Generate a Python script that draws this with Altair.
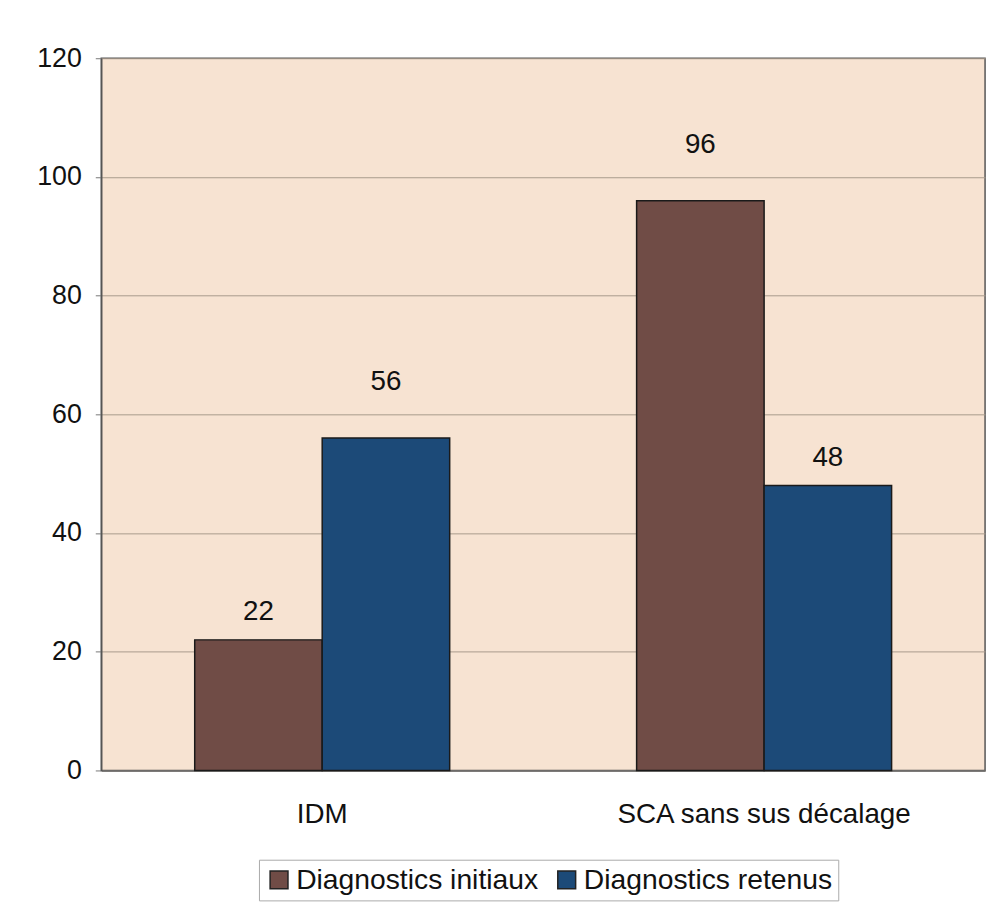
import altair as alt
import pandas as pd

categories = ["IDM", "SCA sans sus décalage"]
series = ["Diagnostics initiaux", "Diagnostics retenus"]
initiaux = [22, 96]
retenus = [56, 48]
y_ticks = [0, 20, 40, 60, 80, 100, 120]

rows = []
for i, c in enumerate(categories):
    rows.append({"categorie": c, "serie": series[0], "valeur": initiaux[i]})
    rows.append({"categorie": c, "serie": series[1], "valeur": retenus[i]})
df = pd.DataFrame(rows)

FONT = "Liberation Sans"
colors = ["#704c46", "#1c4a78"]

x = alt.X("categorie:N", sort=categories, title=None,
          scale=alt.Scale(paddingInner=0.423, paddingOuter=0.2115),
          axis=alt.Axis(labelAngle=0, labelFontSize=28, labelFont=FONT, labelColor="#111",
                        labelLimit=600, ticks=False, labelPadding=30,
                        domainColor="#666", domainWidth=1.5))
xo = alt.XOffset("serie:N", sort=series, scale=alt.Scale(paddingInner=0, paddingOuter=0))
y = alt.Y("valeur:Q", title=None,
          scale=alt.Scale(domain=[0, 120], nice=False),
          axis=alt.Axis(values=y_ticks, labelFontSize=27, labelFont=FONT, labelColor="#111",
                        tickSize=6, tickColor="#777", labelPadding=14,
                        gridColor="#a89a8c", gridWidth=1, domainColor="#555", domainWidth=1.5))

bars = alt.Chart(df).mark_bar(stroke="#1a1a1a", strokeWidth=1.5).encode(
    x=x, xOffset=xo, y=y,
    color=alt.Color("serie:N", sort=series, title=None,
                    scale=alt.Scale(domain=series, range=colors),
                    legend=alt.Legend(orient="none", legendX=159, legendY=808,
                                      direction="horizontal", symbolType="square",
                                      symbolSize=324, symbolStrokeColor="#222",
                                      symbolStrokeWidth=1.5, labelFontSize=28.5,
                                      labelFont=FONT, labelColor="#111",
                                      labelOffset=3, columnPadding=14,
                                      strokeColor="#aaaaaa", fillColor="white",
                                      padding=6, labelLimit=600))
)

raised = "(datum.categorie == 'IDM') == (datum.serie == 'Diagnostics retenus')"

labels_low = alt.Chart(df).transform_filter("!(" + raised + ")").mark_text(
    dy=-28, baseline="middle", fontSize=28, font=FONT, color="#111"
).encode(x=x, xOffset=xo, y=y, text="valeur:Q")

labels_high = alt.Chart(df).transform_filter(raised).mark_text(
    dy=-56, baseline="middle", fontSize=28, font=FONT, color="#111"
).encode(x=x, xOffset=xo, y=y, text="valeur:Q")

chart = alt.layer(bars, labels_low, labels_high).properties(
    width=891, height=718,
    autosize=alt.AutoSizeParams(type="none"),
    padding={"left": 94, "top": 47, "right": 8, "bottom": 130},
    background="white",
).configure_view(
    fill="#f7e3d2", stroke="#555", strokeWidth=1.5
)

chart.save("out.html", embed_options={"renderer": "svg", "actions": False})
